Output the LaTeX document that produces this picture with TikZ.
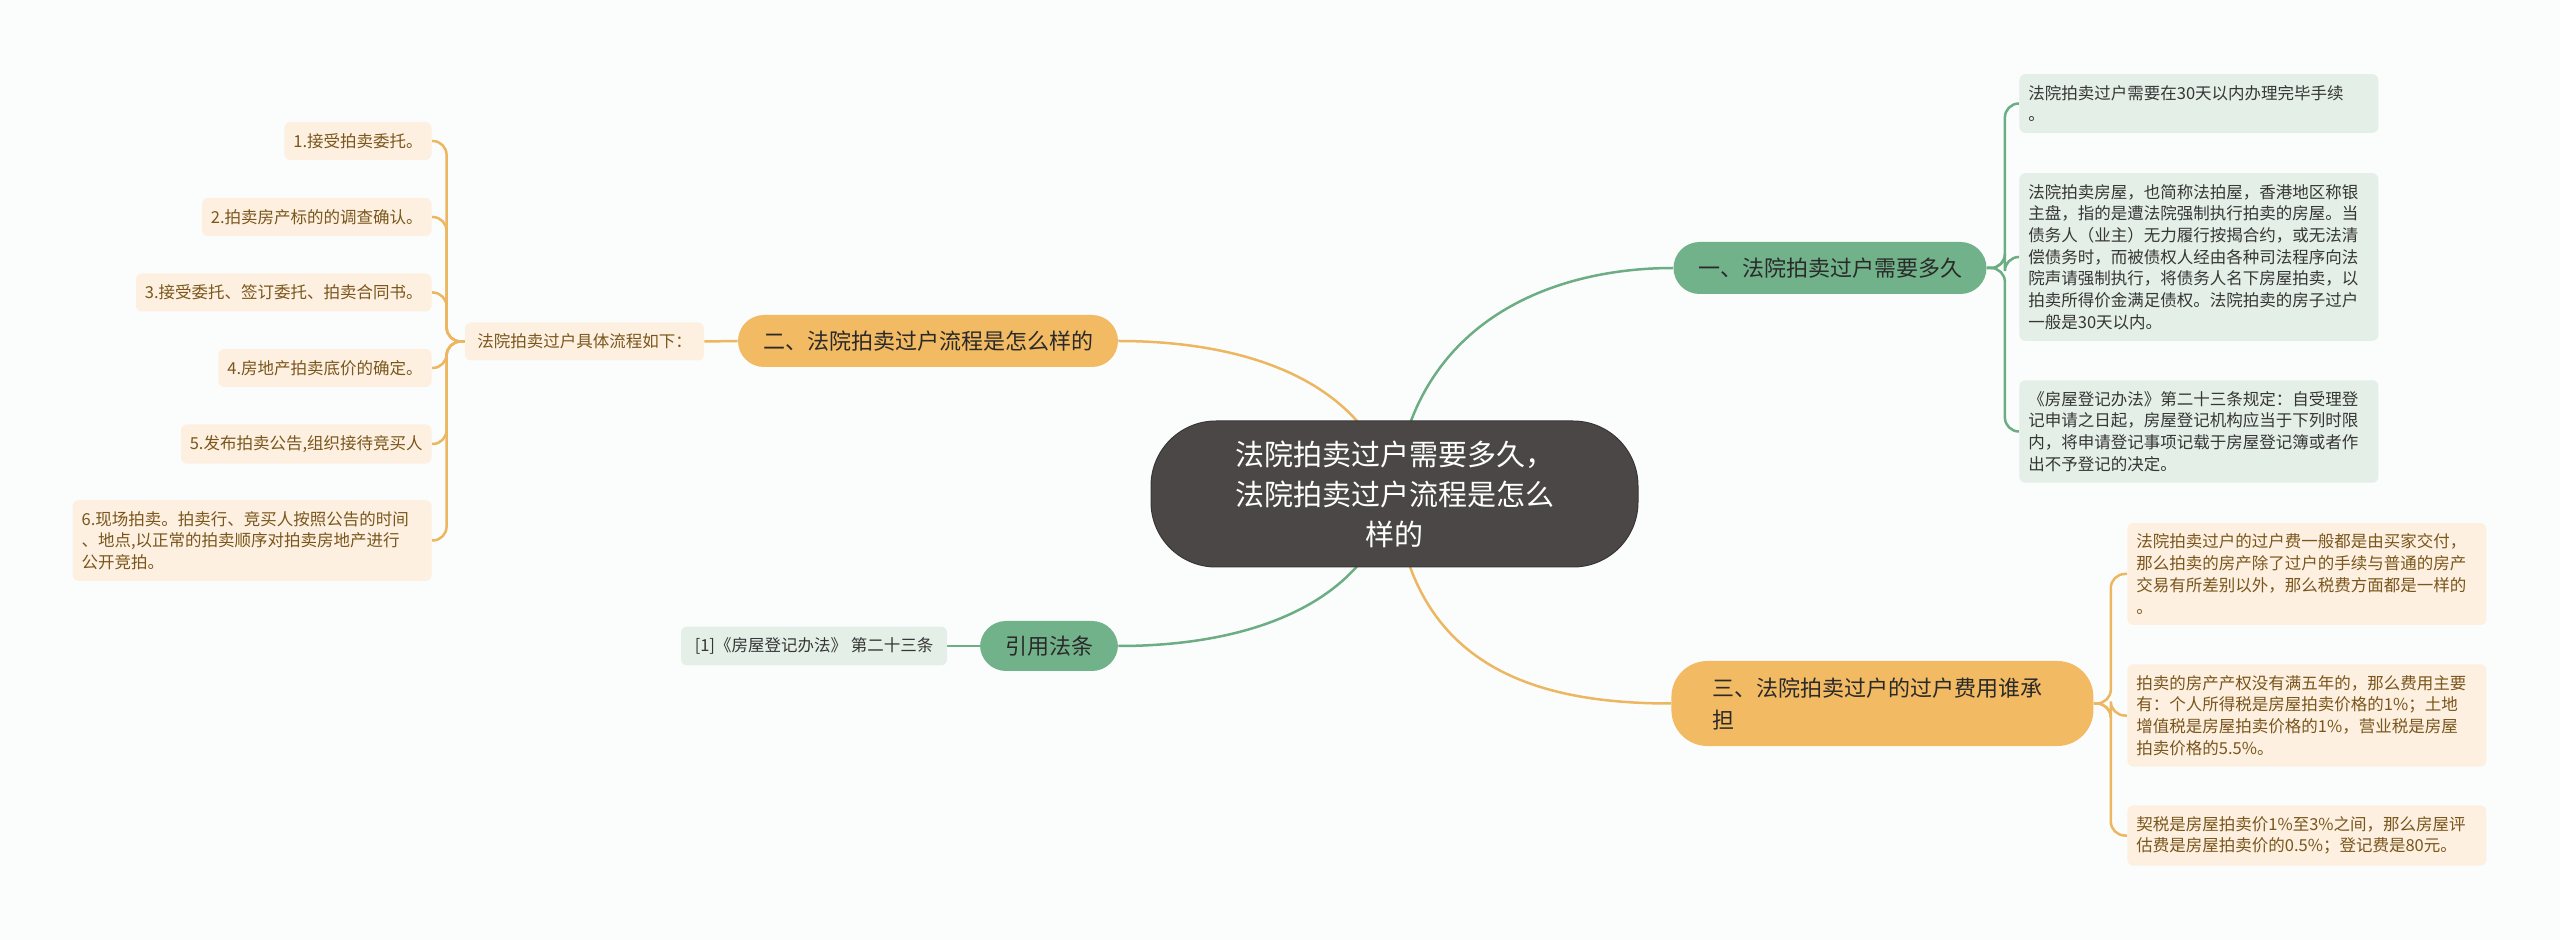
\documentclass[tikz,border=0pt]{standalone}
\usepackage{fontspec}
\setmainfont{Noto Sans CJK SC}
\usetikzlibrary{calc}
\pgfdeclarelayer{bg}
\pgfdeclarelayer{edges}
\pgfsetlayers{bg,edges,main}
\definecolor{bgc}{HTML}{FBFDFD}
\definecolor{darkc}{HTML}{4B4747}
\definecolor{darkb}{HTML}{3A3636}
\definecolor{greenc}{HTML}{72B28A}
\definecolor{greenl}{HTML}{6DAD84}
\definecolor{orangec}{HTML}{F2BA62}
\definecolor{orangel}{HTML}{EDB660}
\definecolor{greenf}{HTML}{E4EFE7}
\definecolor{orangef}{HTML}{FDF0E1}
\definecolor{browntxt}{HTML}{7A561C}
\definecolor{graytxt}{HTML}{363636}
\definecolor{maintxt}{HTML}{2A2A2A}
\tikzset{
  centernode/.style={fill=darkc, draw=darkb, line width=0.5pt, rounded corners=32.5pt,
    minimum width=243.5pt, minimum height=73pt, inner sep=0pt, text=white, align=center,
    font=\fontsize{14.5pt}{20pt}\selectfont},
  branchnode/.style={rounded corners=13pt, minimum height=26pt, inner sep=0pt, text=maintxt,
    font=\fontsize{11pt}{16pt}\selectfont},
  greenbranch/.style={branchnode, fill=greenc},
  orangebranch/.style={branchnode, fill=orangec},
  leafbox/.style={fill=orangef, rounded corners=3pt, text=browntxt, inner xsep=4.5pt,
    inner ysep=5.5pt, minimum height=19pt, font=\fontsize{8.25pt}{10.85pt}\selectfont},
  greenbox/.style={fill=greenf, rounded corners=3pt, text=graytxt, inner xsep=4.5pt,
    inner ysep=5.5pt, minimum height=19pt, font=\fontsize{8.25pt}{10.85pt}\selectfont},
  widebox/.style={text width=170.5pt, align=left},
  gline/.style={draw=greenl, line width=1.25pt},
  oline/.style={draw=orangel, line width=1.25pt},
  bracket/.style={rounded corners=7pt},
}
\begin{document}
\begin{tikzpicture}[x=0.5pt,y=-0.5pt]
\begin{pgfonlayer}{bg}
\fill[bgc] (0,0) rectangle (2560,940);
\end{pgfonlayer}
\useasboundingbox (0,0) rectangle (2560,940);

% center
\node[centernode] (c) at (1394.5,494) {法院拍卖过户需要多久，\\法院拍卖过户流程是怎么\\样的};

% branches
\node[greenbranch, minimum width=156.5pt] (b1) at (1830,268) {一、法院拍卖过户需要多久};
\node[orangebranch, minimum width=190pt] (b2) at (928,341) {二、法院拍卖过户流程是怎么样的};
\node[orangebranch, rounded corners=18pt, minimum width=211pt, minimum height=42.5pt,
      text width=170pt, inner xsep=20.5pt, align=left, anchor=west] (b3) at (1671,703.5)
      {三、法院拍卖过户的过户费用谁承\\担};
\node[greenbranch, minimum width=69pt, minimum height=25pt] (b4) at (1049,646) {引用法条};

% branch 1 details
\node[greenbox, widebox, anchor=west] (d1) at (2019,103.5)
  {法院拍卖过户需要在30天以内办理完毕手续\\。};
\node[greenbox, widebox, anchor=west] (d2) at (2019,257)
  {法院拍卖房屋，也简称法拍屋，香港地区称银\\主盘，指的是遭法院强制执行拍卖的房屋。当\\债务人（业主）无力履行按揭合约，或无法清\\偿债务时，而被债权人经由各种司法程序向法\\院声请强制执行，将债务人名下房屋拍卖，以\\拍卖所得价金满足债权。法院拍卖的房子过户\\一般是30天以内。};
\node[greenbox, widebox, anchor=west] (d3) at (2019,431.5)
  {《房屋登记办法》第二十三条规定：自受理登\\记申请之日起，房屋登记机构应当于下列时限\\内，将申请登记事项记载于房屋登记簿或者作\\出不予登记的决定。};

% branch 3 details
\node[leafbox, widebox, anchor=west] (e1) at (2127,574)
  {法院拍卖过户的过户费一般都是由买家交付，\\那么拍卖的房产除了过户的手续与普通的房产\\交易有所差别以外，那么税费方面都是一样的\\。};
\node[leafbox, widebox, anchor=west] (e2) at (2127,715.5)
  {拍卖的房产产权没有满五年的，那么费用主要\\有：个人所得税是房屋拍卖价格的1\%；土地\\增值税是房屋拍卖价格的1\%，营业税是房屋\\拍卖价格的5.5\%。};
\node[leafbox, widebox, anchor=west] (e3) at (2127,835.5)
  {契税是房屋拍卖价1\%至3\%之间，那么房屋评\\估费是房屋拍卖价的0.5\%；登记费是80元。};

% branch 2 sub and leaves
\node[leafbox, minimum width=119.5pt] (s) at (584.5,341.5) {法院拍卖过户具体流程如下：};
\node[leafbox, anchor=east] (l1) at (432,141) {1.接受拍卖委托。};
\node[leafbox, anchor=east] (l2) at (432,217) {2.拍卖房产标的的调查确认。};
\node[leafbox, anchor=east] (l3) at (432,292.5) {3.接受委托、签订委托、拍卖合同书。};
\node[leafbox, anchor=east] (l4) at (432,368) {4.房地产拍卖底价的确定。};
\node[leafbox, anchor=east] (l5) at (432,444) {5.发布拍卖公告,组织接待竞买人};
\node[leafbox, widebox, anchor=east] (l6) at (432,540.5)
  {6.现场拍卖。拍卖行、竞买人按照公告的时间\\、地点,以正常的拍卖顺序对拍卖房地产进行\\公开竞拍。};

% citation detail
\node[greenbox, minimum width=133pt] (cd) at (814,646) {[1]《房屋登记办法》 第二十三条};

\begin{pgfonlayer}{edges}
% center curves
\draw[gline] (c.center) .. controls ($(c.center)+(16,-170)$) and ($(b1.west)+(-125,0)$) .. (b1.west);
\draw[oline] (c.center) .. controls ($(c.center)+(-26,-111)$) and ($(b2.east)+(132,0)$) .. (b2.east);
\draw[gline] (c.center) .. controls ($(c.center)+(-26,110)$) and ($(b4.east)+(132,0)$) .. (b4.east);
\draw[oline] (c.center) .. controls ($(c.center)+(16,176)$) and ($(b3.west)+(-131,0)$) .. (b3.west);
% branch 1 brackets
\foreach \t in {d1,d2,d3}
  \draw[gline, bracket] (b1.east) -- ++(18,0) |- (\t.west);
% branch 3 brackets
\foreach \t in {e1,e2,e3}
  \draw[oline, bracket] (b3.east) -- ++(17,0) |- (\t.west);
% branch 2
\draw[oline] (b2.west) -- (s.east);
\foreach \t in {l1,l2,l3,l4,l5,l6}
  \draw[oline, bracket] (s.west) -- ++(-18,0) |- (\t.east);
% citation
\draw[gline] (b4.west) -- (cd.east);
\end{pgfonlayer}
\end{tikzpicture}
\end{document}
